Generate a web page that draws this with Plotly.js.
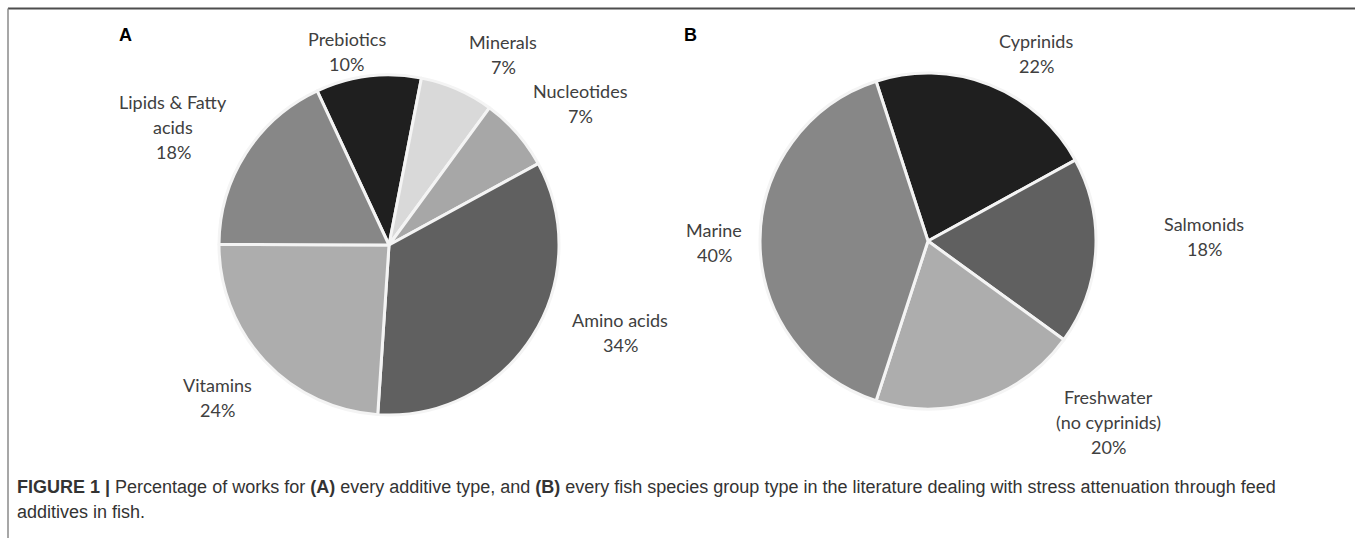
<!DOCTYPE html>
<html>
<head>
<meta charset="utf-8">
<script src="https://cdn.plot.ly/plotly-3.0.1.min.js"></script>
<style>
  html, body { margin: 0; padding: 0; background: #ffffff; }
  #chart { width: 1355px; height: 538px; }
</style>
</head>
<body>
<div id="chart"></div>
<script>
// ---- Data ----
const additiveLabels = ['Prebiotics', 'Minerals', 'Nucleotides', 'Amino acids', 'Vitamins', 'Lipids & Fatty acids'];
const additiveDisplay = ['Prebiotics', 'Minerals', 'Nucleotides', 'Amino acids', 'Vitamins', 'Lipids & Fatty<br>acids'];
const additiveValues = [10, 7, 7, 34, 24, 18];

const speciesLabels = ['Cyprinids', 'Salmonids', 'Freshwater (no cyprinids)', 'Marine'];
const speciesDisplay = ['Cyprinids', 'Salmonids', 'Freshwater<br>(no cyprinids)', 'Marine'];
const speciesValues = [22, 18, 20, 40];

const panelLetters = ['A', 'B'];
const captionLines = [
  '<b>FIGURE 1 |</b> Percentage of works for <b>(A)</b> every additive type, and <b>(B)</b> every fish species group type in the literature dealing with stress attenuation through feed',
  'additives in fish.'
];

// ---- Styles / layout (pixel positions in a 1355x538 canvas) ----
const W = 1355, H = 538;
const additiveColors = ['#1f1f1f', '#d9d9d9', '#a7a7a7', '#606060', '#adadad', '#878787'];
const speciesColors = ['#1f1f1f', '#606060', '#adadad', '#878787'];
const additiveLabelPos = [[347, 52], [503, 55], [580, 103], [620, 332], [217, 397], [173, 127]];
const speciesLabelPos = [[1036, 53], [1204, 236], [1108, 422], [714, 243]];
const letterPos = [[125, 35], [690, 35]];
const px = x => x / W;
const py = y => 1 - y / H;

function pieTrace(labels, values, colors, cx, cy, r, rotation) {
  return {
    type: 'pie',
    labels: labels,
    values: values,
    sort: false,
    direction: 'clockwise',
    rotation: rotation,
    textinfo: 'none',
    hoverinfo: 'skip',
    marker: { colors: colors, line: { color: '#f4f4f4', width: 3 } },
    domain: { x: [px(cx - r), px(cx + r)], y: [py(cy + r), py(cy - r)] },
    showlegend: false
  };
}

const traces = [
  pieTrace(additiveLabels, additiveValues, additiveColors, 389, 245, 170, -25),
  pieTrace(speciesLabels, speciesValues, speciesColors, 928, 241, 168, -18)
];

const annotations = [];
const labelFont = { family: 'Lato, "Open Sans", sans-serif', size: 18, color: '#404040' };
function addLabel(text, pos) {
  const lines = text.split('<br>');
  const n = lines.length;
  lines.forEach((ln, i) => {
    annotations.push({
      xref: 'paper', yref: 'paper', x: px(pos[0]), y: py(pos[1]),
      xanchor: 'center', yanchor: 'middle', showarrow: false,
      text: ln, font: labelFont, yshift: ((n - 1) / 2 - i) * 25
    });
  });
}
additiveDisplay.forEach((d, i) => {
  addLabel(d + '<br>' + additiveValues[i] + '%', additiveLabelPos[i]);
});
speciesDisplay.forEach((d, i) => {
  addLabel(d + '<br>' + speciesValues[i] + '%', speciesLabelPos[i]);
});
panelLetters.forEach((l, i) => {
  annotations.push({
    xref: 'paper', yref: 'paper', x: px(letterPos[i][0]), y: py(letterPos[i][1]),
    xanchor: 'center', yanchor: 'middle', showarrow: false,
    text: '<b>' + l + '</b>',
    font: { family: '"Liberation Sans", Arial, sans-serif', size: 18, color: '#000000' }
  });
});
captionLines.forEach((t, i) => {
  annotations.push({
    xref: 'paper', yref: 'paper', x: px(15), y: py(487 + i * 25),
    xanchor: 'left', yanchor: 'middle', showarrow: false, align: 'left',
    text: t,
    font: { family: '"Liberation Sans", Arial, sans-serif', size: 18, color: '#333333' }
  });
});

const shapes = [
  { type: 'line', xref: 'paper', yref: 'paper', x0: px(8), x1: px(1355), y0: py(8.5), y1: py(8.5),
    line: { color: '#4d4d4d', width: 2 } },
  { type: 'line', xref: 'paper', yref: 'paper', x0: px(8), x1: px(8), y0: py(8.5), y1: py(538),
    line: { color: '#8a8a8a', width: 1.5 } }
];

const layout = {
  width: W, height: H,
  margin: { l: 0, r: 0, t: 0, b: 0 },
  paper_bgcolor: '#ffffff',
  plot_bgcolor: '#ffffff',
  showlegend: false,
  hovermode: false,
  annotations: annotations,
  shapes: shapes
};

Plotly.newPlot('chart', traces, layout, { displayModeBar: false, staticPlot: true });
</script>
</body>
</html>
